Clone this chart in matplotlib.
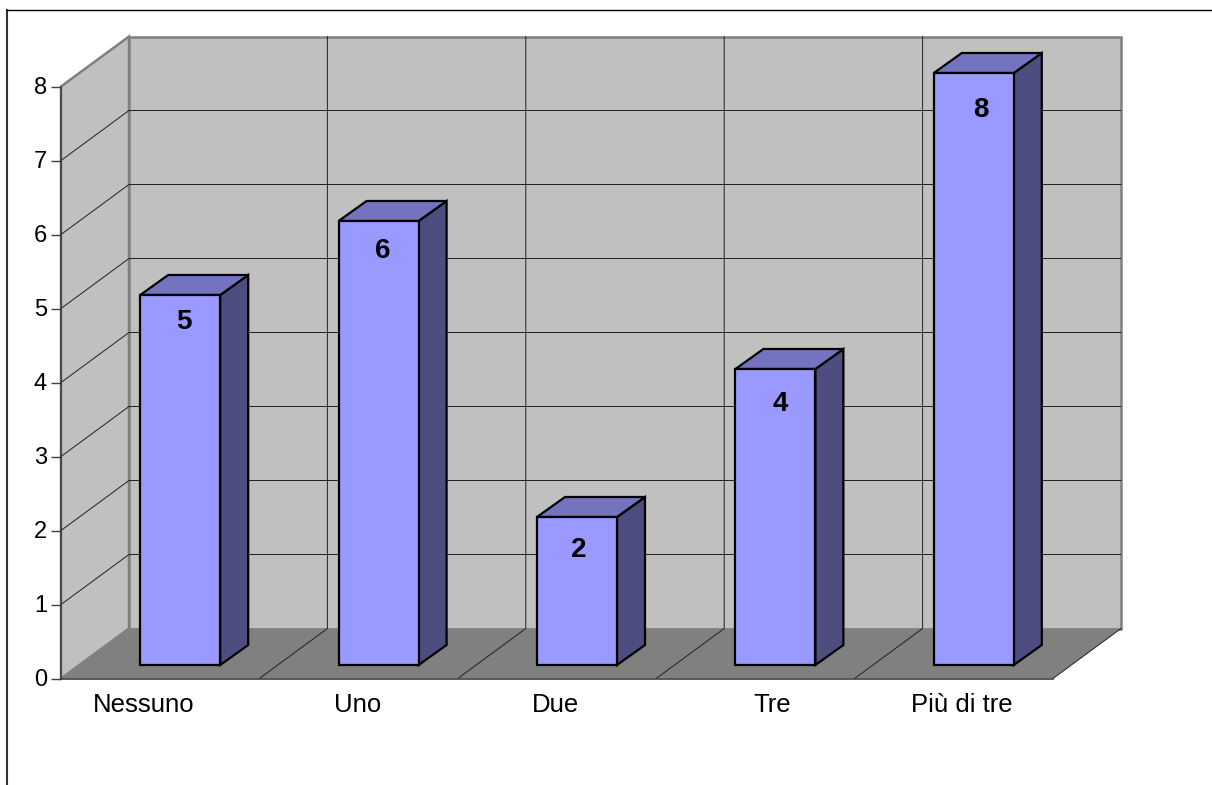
import matplotlib
matplotlib.use("Agg")
import matplotlib.pyplot as plt
from matplotlib.lines import Line2D
from matplotlib.patches import Polygon
from matplotlib.transforms import ScaledTranslation

plt.rcParams['font.family'] = ['Liberation Sans', 'DejaVu Sans']

categories = ["Nessuno", "Uno", "Due", "Tre", "Più di tre"]
values = [5, 6, 2, 4, 8]
y_ticks = [0, 1, 2, 3, 4, 5, 6, 7, 8]

# small hand nudges for the labels, in pixels
cat_nudge = [-17, -1, -2, 17, 8]
val_nudge_x = [4, 4, 2, 5, 7]
val_nudge_y = [27, 30, 33, 35, 37]

W, H = 1212, 785
left, right, bottom, top = 61, 1053, 678.5, 86.5

fig = plt.figure(figsize=(W / 100, H / 100), dpi=100)
ax = fig.add_axes([left / W, 1 - bottom / H, (right - left) / W, (bottom - top) / H])
ax.set_xlim(0, len(categories))
ax.set_ylim(0, y_ticks[-1])

# pixels per data unit, used for the fake 3d depth
px_x = (right - left) / len(categories)
px_y = (bottom - top) / y_ticks[-1]


def off(x, y, dx, dy):
    # shift a data point by screen pixels (dy upwards)
    return (x + dx / px_x, y + dy / px_y)


def poly(points, color, edge=None, lw=0, z=1):
    ax.add_patch(Polygon(points, closed=True, facecolor=color, edgecolor=edge or color,
                         linewidth=lw, joinstyle='miter', clip_on=False, zorder=z))


depth_x, depth_y = 68, 50
n = len(categories)
ymax = y_ticks[-1]

# walls and floor
wall_color = '#C0C0C0'
wall_edge = '#808080'
poly([(0, 0), (0, ymax), off(0, ymax, depth_x, depth_y), off(0, 0, depth_x, depth_y)],
     wall_color, wall_edge, 1.8)
poly([off(0, 0, depth_x, depth_y), off(0, ymax, depth_x, depth_y),
      off(n, ymax, depth_x, depth_y), off(n, 0, depth_x, depth_y)],
     wall_color, wall_edge, 1.8)
poly([(0, 0), (n, 0), off(n, 0, depth_x, depth_y), off(0, 0, depth_x, depth_y)], '#808080')

# gridlines
grid = dict(color='#202020', lw=0.7, clip_on=False, zorder=2)
for t in y_ticks[1:-1]:
    p0 = (0, t)
    p1 = off(0, t, depth_x, depth_y)
    p2 = off(n, t, depth_x, depth_y)
    ax.plot([p0[0], p1[0], p2[0]], [p0[1], p1[1], p2[1]], **grid)
for i in range(1, n):
    p0 = (i, 0)
    p1 = off(i, 0, depth_x, depth_y)
    p2 = off(i, ymax, depth_x, depth_y)
    ax.plot([p0[0], p1[0], p2[0]], [p0[1], p1[1], p2[1]], **grid)
ax.plot(*zip((n, 0), off(n, 0, depth_x, depth_y)), **grid)

# bars, pushed back into the floor a bit
bar_w = 80 / px_x
front_x, front_y = 20, 13.5
side_x, side_y = 28, 20
for i, v in enumerate(values):
    x0, _ = off(i + 0.5 - bar_w / 2, 0, front_x, 0)
    x1 = x0 + bar_w
    # the whole block is lifted by the same depth offset, so the value scale holds
    y0 = front_y / px_y
    y1 = v + front_y / px_y
    b, a, tl, tr = (x0, y0), (x1, y0), (x0, y1), (x1, y1)
    edge = dict(edge='black', lw=1.6, z=3)
    poly([a, tr, off(*tr, side_x, side_y), off(*a, side_x, side_y)], '#4D4D80', **edge)
    poly([tl, tr, off(*tr, side_x, side_y), off(*tl, side_x, side_y)], '#7373BF', **edge)
    poly([b, a, tr, tl], '#9999FF', **edge)
    tx, ty = off((x0 + x1) / 2, y1, val_nudge_x[i], -val_nudge_y[i])
    ax.text(tx, ty, str(v), ha='center', va='center', fontsize=20, fontweight='bold',
            color='black', zorder=4)
    cx, cy = off(i + 0.5, 0, cat_nudge[i], -27)
    ax.text(cx, cy, categories[i], ha='center', va='center', fontsize=18.5,
            color='black', clip_on=False)

ax.set_xticks([])
ax.set_yticks(y_ticks)
ax.tick_params(axis='y', length=7, width=1, color='#404040', pad=3, labelsize=17)
for lab in ax.get_yticklabels():
    lab.set_transform(lab.get_transform() + ScaledTranslation(0, 0.015, fig.dpi_scale_trans))
for s in ['top', 'right']:
    ax.spines[s].set_visible(False)
for s in ['left', 'bottom']:
    ax.spines[s].set_color('#404040')
    ax.spines[s].set_linewidth(1.2)
    ax.spines[s].set_zorder(5)

# frame around the chart is only visible on the top and left
fx, fy = 7 / W, 1 - 10 / H
fig.add_artist(Line2D([fx, fx], [0, fy], color='#303030', lw=1.5))
fig.add_artist(Line2D([fx, 1], [fy, fy], color='black', lw=1))

fig.savefig("out.png", dpi=100)
